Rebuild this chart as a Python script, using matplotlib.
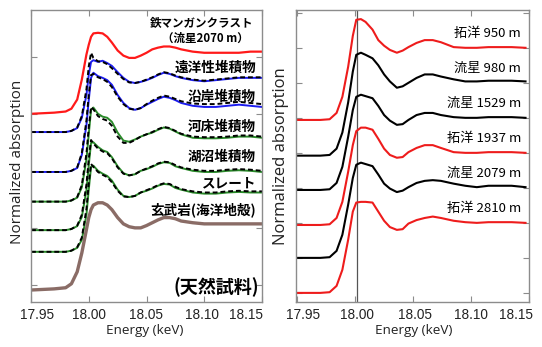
import matplotlib
matplotlib.use("Agg")
import matplotlib.pyplot as plt
from matplotlib.transforms import ScaledTranslation

# ---------------- data: left panel (natural samples) ----------------
E_left = [17.950, 17.970, 17.980, 17.985, 17.990, 17.994, 17.998, 18.000, 18.002, 18.004,
          18.008, 18.012, 18.016, 18.020, 18.025, 18.030, 18.035, 18.040, 18.045, 18.050,
          18.055, 18.060, 18.065, 18.070, 18.075, 18.080, 18.090, 18.100, 18.110, 18.120,
          18.130, 18.140, 18.150]

crust = [-0.02, 0, 0.02, 0.07, 0.23, 0.58, 1.02, 1.19, 1.33, 1.39, 1.40, 1.39, 1.33, 1.23, 1.09,
         1.00, 0.96, 0.96, 1.00, 1.05, 1.11, 1.14, 1.16, 1.16, 1.14, 1.11, 1.07, 1.05, 1.05, 1.05,
         1.05, 1.07, 1.07]
pelagic = [0, 0, 0, 0.02, 0.07, 0.25, 0.65, 1.00, 1.23, 1.26, 1.23, 1.25, 1.21, 1.16, 1.05, 0.95,
           0.88, 0.86, 0.88, 0.91, 0.95, 1.00, 1.04, 1.02, 0.98, 0.95, 0.91, 0.89, 0.91, 0.93,
           0.95, 0.95, 0.95]
pelagic_fit = [0, 0, 0, 0.02, 0.08, 0.28, 0.75, 1.15, 1.39, 1.30, 1.24, 1.23, 1.19, 1.12, 1.02,
               0.93, 0.87, 0.86, 0.88, 0.92, 0.96, 1.01, 1.05, 1.03, 0.99, 0.96, 0.92, 0.90, 0.92,
               0.94, 0.96, 0.96, 0.96]
coastal = [0, 0, 0, 0.02, 0.07, 0.30, 0.82, 1.26, 1.65, 1.74, 1.68, 1.65, 1.61, 1.53, 1.35, 1.21,
           1.12, 1.09, 1.12, 1.18, 1.23, 1.28, 1.32, 1.30, 1.26, 1.21, 1.16, 1.14, 1.14, 1.16,
           1.18, 1.16, 1.14]
coastal_fit = [0, 0, 0, 0.02, 0.08, 0.33, 0.90, 1.35, 1.70, 1.72, 1.66, 1.63, 1.58, 1.49, 1.32,
               1.19, 1.11, 1.09, 1.12, 1.19, 1.25, 1.30, 1.34, 1.32, 1.28, 1.24, 1.20, 1.19, 1.19,
               1.21, 1.23, 1.21, 1.19]
river = [0, 0, 0, 0.02, 0.07, 0.25, 0.74, 1.18, 1.61, 1.65, 1.54, 1.49, 1.47, 1.40, 1.21, 1.07,
         1.05, 1.09, 1.14, 1.18, 1.21, 1.26, 1.30, 1.28, 1.23, 1.18, 1.12, 1.11, 1.11, 1.12, 1.14,
         1.14, 1.12]
river_fit = [0, 0, 0, 0.02, 0.08, 0.29, 0.84, 1.30, 1.66, 1.62, 1.50, 1.45, 1.42, 1.33, 1.14,
             1.03, 1.03, 1.08, 1.14, 1.18, 1.22, 1.27, 1.31, 1.29, 1.24, 1.19, 1.14, 1.13, 1.13,
             1.14, 1.16, 1.16, 1.14]
lake = [0, 0, 0, 0.02, 0.07, 0.23, 0.70, 1.14, 1.53, 1.54, 1.46, 1.40, 1.37, 1.28, 1.12, 1.00,
        0.96, 0.98, 1.04, 1.07, 1.11, 1.16, 1.19, 1.18, 1.12, 1.09, 1.04, 1.02, 1.02, 1.04, 1.05,
        1.04, 1.02]
lake_fit = [0, 0, 0, 0.02, 0.08, 0.27, 0.80, 1.25, 1.58, 1.52, 1.43, 1.38, 1.35, 1.26, 1.10, 0.99,
            0.96, 0.98, 1.04, 1.08, 1.12, 1.17, 1.20, 1.19, 1.14, 1.10, 1.06, 1.04, 1.04, 1.06,
            1.07, 1.06, 1.04]
slate = [0, 0, 0, 0.02, 0.07, 0.21, 0.65, 1.09, 1.49, 1.51, 1.42, 1.37, 1.33, 1.25, 1.09, 0.98,
         0.96, 0.98, 1.04, 1.07, 1.11, 1.16, 1.19, 1.18, 1.12, 1.09, 1.04, 1.02, 1.02, 1.04, 1.05,
         1.04, 1.04]
slate_fit = [0, 0, 0, 0.02, 0.08, 0.25, 0.75, 1.20, 1.54, 1.49, 1.40, 1.35, 1.31, 1.22, 1.07,
             0.97, 0.96, 0.98, 1.04, 1.08, 1.12, 1.17, 1.20, 1.19, 1.14, 1.10, 1.06, 1.04, 1.04,
             1.06, 1.07, 1.06, 1.06]
basalt = [-0.02, 0, 0.02, 0.09, 0.30, 0.63, 1.04, 1.25, 1.39, 1.47, 1.51, 1.51, 1.47, 1.39, 1.25,
          1.14, 1.09, 1.07, 1.07, 1.11, 1.16, 1.21, 1.25, 1.25, 1.23, 1.19, 1.16, 1.14, 1.14, 1.14,
          1.14, 1.14, 1.14]

left_offsets = [3.02, 2.68, 1.98, 1.46, 0.96, 0.58, -0.07]
left_names = ["鉄マンガンクラスト", "遠洋性堆積物", "沿岸堆積物", "河床堆積物",
              "湖沼堆積物", "スレート", "玄武岩(海洋地殻)"]

# ---------------- data: right panel (Fe-Mn crusts by depth) ----------------
E_right = [17.949, 17.970, 17.978, 17.984, 17.989, 17.994, 17.998, 18.001, 18.005, 18.009,
           18.015, 18.020, 18.025, 18.030, 18.036, 18.041, 18.046, 18.053, 18.060, 18.067,
           18.074, 18.085, 18.095, 18.105, 18.115, 18.125, 18.135, 18.147]

d950 = [0, 0, 0.01, 0.10, 0.33, 0.76, 1.20, 1.43, 1.44, 1.40, 1.29, 1.14, 1.06, 1.00, 0.96, 0.99,
        1.04, 1.10, 1.14, 1.14, 1.11, 1.04, 1.03, 1.03, 1.04, 1.04, 1.04, 1.03]
d980 = [0, 0, 0.01, 0.10, 0.33, 0.76, 1.20, 1.44, 1.47, 1.44, 1.39, 1.29, 1.16, 1.06, 0.97, 0.99,
        1.04, 1.11, 1.16, 1.16, 1.13, 1.09, 1.06, 1.06, 1.07, 1.07, 1.07, 1.06]
d1529 = [0, 0, 0.01, 0.10, 0.33, 0.76, 1.14, 1.33, 1.36, 1.34, 1.31, 1.20, 1.07, 0.99, 0.93, 0.94,
         1.00, 1.07, 1.10, 1.10, 1.07, 1.04, 1.03, 1.03, 1.04, 1.04, 1.04, 1.03]
d1937 = [0, 0, 0.01, 0.10, 0.33, 0.76, 1.14, 1.34, 1.39, 1.39, 1.36, 1.23, 1.09, 1.00, 0.96, 0.97,
         1.04, 1.10, 1.14, 1.14, 1.10, 1.04, 1.03, 1.03, 1.04, 1.04, 1.04, 1.03]
d2079 = [0, 0, 0.01, 0.10, 0.33, 0.76, 1.14, 1.33, 1.36, 1.34, 1.31, 1.19, 1.06, 0.99, 0.94, 0.96,
         1.01, 1.07, 1.10, 1.11, 1.10, 1.06, 1.03, 1.01, 1.03, 1.03, 1.03, 1.01]
d2810 = [0, 0, 0.01, 0.10, 0.33, 0.76, 1.16, 1.29, 1.30, 1.30, 1.29, 1.16, 1.03, 0.94, 0.90, 0.91,
         0.99, 1.04, 1.07, 1.09, 1.07, 1.03, 1.01, 1.00, 1.01, 1.01, 1.01, 1.00]

right_offsets = [2.47, 1.96, 1.47, 0.97, 0.50, 0.0]
right_names = ["拓洋 950 m", "流星 980 m", "流星 1529 m", "拓洋 1937 m", "流星 2079 m", "拓洋 2810 m"]
right_colors = ["#ee1c1c", "black", "black", "#ee1c1c", "black", "#ee1c1c"]

x_ticks = [17.95, 18.00, 18.05, 18.10, 18.15]
x_ticklabels = ["17.95", "18.00", "18.05", "18.10", "18.15"]
edge_line = 18.002

# ---------------- figure ----------------
W, H = 542, 347
fig = plt.figure(figsize=(W / 100, H / 100), dpi=100)
cjk = ["Noto Sans CJK JP", "DejaVu Sans"]
spine_col = "#8c8c8c"


def style(ax, yticks, label_shift, xlab_pos):
    for s in ax.spines.values():
        s.set_color(spine_col)
        s.set_linewidth(1.0)
    ax.set_xticks(x_ticks)
    ax.set_xticklabels(x_ticklabels, fontfamily="Liberation Sans", fontsize=9.8, color="#222222")
    ax.set_yticks(yticks)
    ax.tick_params(axis="both", direction="in", length=4, color=spine_col,
                   top=True, right=True, labelleft=False, pad=4)
    ax.set_xlabel("Energy (keV)", fontfamily="Open Sans", fontsize=9.7, color="#222222")
    ax.xaxis.set_label_coords(xlab_pos, -0.077)
    for lab, dx in zip(ax.get_xticklabels(), label_shift):
        lab.set_transform(lab.get_transform() + ScaledTranslation(dx / 100, 0, fig.dpi_scale_trans))


def px_ax(l, r, t, b):
    return [l / W, 1 - b / H, (r - l) / W, (b - t) / H]


# left panel
axL = fig.add_axes(px_ax(31, 262, 10, 302))
axL.set_xlim(17.95, 18.149)
axL.set_ylim(-0.30, 4.82)
style(axL, [0, 1, 2, 3, 4], [6, 0, -1, -2, -16], 0.49)
axL.set_ylabel("Normalized absorption", fontfamily="Open Sans", fontsize=11, color="#222222")
axL.yaxis.set_label_coords(-0.026, 0.48)

left_series = [crust, pelagic, coastal, river, lake, slate, basalt]
left_fits = [None, pelagic_fit, coastal_fit, river_fit, lake_fit, slate_fit, None]
left_colors = ["#ff1a1a", "#1c1cf0", "#1c1cf0", "#2a8a2a", "#2a8a2a", "#2a8a2a", "#8a6c66"]
left_lw = [1.6, 1.4, 1.4, 1.4, 1.4, 1.4, 2.4]
for ys, fit, off, c, lw in zip(left_series, left_fits, left_offsets, left_colors, left_lw):
    axL.plot(E_left, [v + off for v in ys], color=c, lw=lw, solid_joinstyle="round")
    if fit is not None:
        axL.plot(E_left, [v + off for v in fit], color="black", lw=1.4, ls=(0, (2.5, 1.5)))

# right panel
axR = fig.add_axes(px_ax(296, 529, 10, 302))
axR.set_xlim(17.949, 18.147)
axR.set_ylim(-0.13, 4.04)
style(axR, [0, 0.5, 1.0, 1.5, 2.0, 2.5, 3.0, 3.5, 4.0], [6, 2, 2, 0, -13], 0.506)
axR.set_ylabel("Normalized absorption", fontfamily="Open Sans", fontsize=12, color="#222222")
axR.yaxis.set_label_coords(-0.030, 0.50)
axR.axvline(edge_line, color="#555555", lw=0.9)
for ys, off, c in zip([d950, d980, d1529, d1937, d2079, d2810], right_offsets, right_colors):
    axR.plot(E_right, [v + off for v in ys], color=c, lw=1.5)

# ---------------- labels ----------------
def ftxt(x, y, s, **kw):
    fig.text(x / W, 1 - y / H, s, ha="right", va="center", family=cjk, **kw)


ftxt(253, 24, left_names[0], fontsize=8.3, weight="bold")
ftxt(249, 38, "（流星2070 m）", fontsize=8.3, weight="bold")
left_label_y = [68, 97, 127, 157, 183, 210]
for name, y in zip(left_names[1:], left_label_y):
    ftxt(256, y, name, fontsize=9.8, weight="bold")
ftxt(259, 287, "(天然試料)", fontsize=13, weight="bold")

right_label_y = [33, 68, 103, 138, 173, 208]
for name, y in zip(right_names, right_label_y):
    ftxt(521, y, name, fontsize=9.5)

fig.savefig("out.png", dpi=100)
